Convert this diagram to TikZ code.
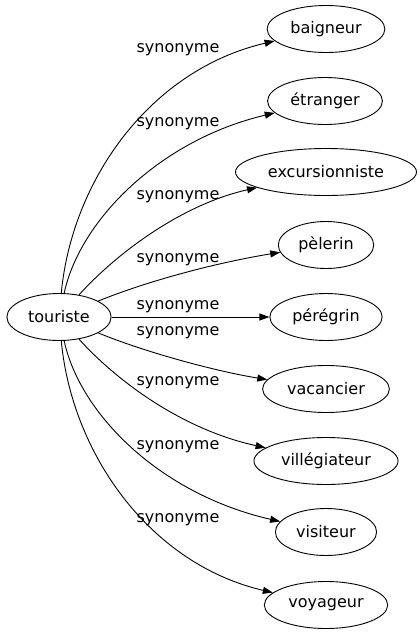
\documentclass[tikz,border=0pt]{standalone}
\usepackage{fontspec}
\setmainfont{DejaVu Sans}
\usepackage{tikz}
\usetikzlibrary{positioning,arrows.meta,shapes}

\begin{document}
\begin{tikzpicture}[x=1pt, y=-1pt, line width=0.9pt,
    word/.style={draw, ellipse, inner xsep=6pt, inner ysep=0pt, minimum height=47pt,
      font=\fontsize{16}{19}\selectfont},
    rel/.style={inner sep=0pt, font=\fontsize{16}{19}\selectfont},
    syn/.style={-{Triangle[length=10pt,width=7pt]}}]
  \useasboundingbox (0,0) rectangle (420,635);

  \node[word] (touriste) at (59,317) {touriste};

  \node[word] (baigneur)       at (326,29)  {baigneur};
  \node[word] (etranger)       at (325,101) {étranger};
  \node[word] (excursionniste) at (326,172) {excursionniste};
  \node[word] (pelerin)        at (326,245) {pèlerin};
  \node[word] (peregrin)       at (326,317) {pérégrin};
  \node[word] (vacancier)      at (326,389) {vacancier};
  \node[word] (villegiateur)   at (326,461) {villégiateur};
  \node[word] (visiteur)       at (326,532) {visiteur};
  \node[word] (voyageur)       at (326,605) {voyageur};

  % edge labels
  \node[rel] (l1) at (178,50)  {synonyme};
  \node[rel] (l2) at (178,124) {synonyme};
  \node[rel] (l3) at (178,197) {synonyme};
  \node[rel] (l4) at (178,260) {synonyme};
  \node[rel] (l5) at (178,307) {synonyme};
  \node[rel] (l6) at (178,333) {synonyme};
  \node[rel] (l7) at (178,383) {synonyme};
  \node[rel] (l8) at (178,447) {synonyme};
  \node[rel] (l9) at (178,520) {synonyme};

  \draw[syn] (touriste) .. controls (72,180) and (150,70) .. (baigneur);
  \draw[syn] (touriste) .. controls (80,220) and (160,140) .. (etranger);
  \draw[syn] (touriste) .. controls (115,255) and (180,205) .. (excursionniste);
  \draw[syn] (touriste) .. controls (150,280) and (220,262) .. (pelerin);
  \draw[syn] (touriste) -- (peregrin);
  \draw[syn] (touriste) .. controls (150,354) and (220,372) .. (vacancier);
  \draw[syn] (touriste) .. controls (115,379) and (180,429) .. (villegiateur);
  \draw[syn] (touriste) .. controls (80,414) and (160,494) .. (visiteur);
  \draw[syn] (touriste) .. controls (72,454) and (150,564) .. (voyageur);
\end{tikzpicture}
\end{document}
